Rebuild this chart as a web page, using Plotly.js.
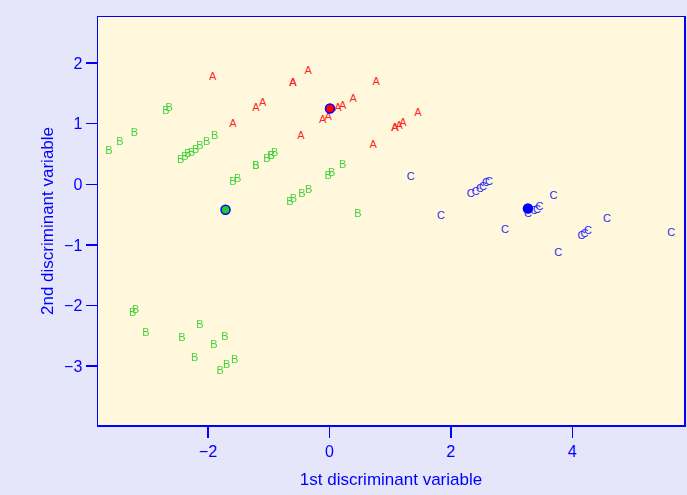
<!DOCTYPE html>
<html><head><meta charset="utf-8">
<script src="https://cdn.plot.ly/plotly-3.0.1.min.js"></script>
<style>html,body{margin:0;padding:0;background:#E6E6FA;}#plot{width:687px;height:495px;}</style>
</head><body><div id="plot"></div>
<script>
var A_x = [-1.92, -0.60, -0.60, -0.35, -1.21, -1.10, -1.59, -0.47, -0.11, -0.02, 0.14, 0.22, 0.39, 0.77, 0.72, 1.08, 1.08, 1.15, 1.21, 1.46];
var A_y = [1.76, 1.67, 1.67, 1.87, 1.26, 1.34, 0.99, 0.80, 1.06, 1.11, 1.25, 1.28, 1.41, 1.68, 0.65, 0.92, 0.92, 0.96, 1.00, 1.18];
var B_x = [-3.63, -3.45, -3.21, -2.69, -2.64, -2.45, -2.38, -2.33, -2.27, -2.20, -2.13, -2.02, -1.89, -1.21, -1.21, -1.03, -0.96, -0.96, -0.90, -1.59, -1.51, 0.22, -0.02, 0.04, -0.34, -0.45, -0.65, -0.59, 0.47, -3.24, -3.19, -3.02, -2.43, -2.13, -2.22, -1.90, -1.72, -1.80, -1.69, -1.56];
var B_y = [0.55, 0.69, 0.85, 1.20, 1.25, 0.39, 0.44, 0.49, 0.52, 0.57, 0.62, 0.70, 0.79, 0.29, 0.29, 0.42, 0.46, 0.46, 0.51, 0.03, 0.08, 0.31, 0.13, 0.18, -0.09, -0.17, -0.30, -0.25, -0.50, -2.13, -2.08, -2.46, -2.54, -2.33, -2.87, -2.66, -2.53, -3.09, -2.99, -2.91];
var C_x = [1.34, 1.84, 2.33, 2.41, 2.48, 2.53, 2.58, 2.63, 2.89, 3.27, 3.37, 3.42, 3.46, 3.69, 3.77, 4.57, 4.15, 4.20, 4.26, 5.63];
var C_y = [0.11, -0.52, -0.17, -0.13, -0.08, -0.04, 0.01, 0.04, -0.76, -0.50, -0.45, -0.42, -0.37, -0.19, -1.13, -0.57, -0.86, -0.83, -0.78, -0.81];
var mean_x = [0.01, -1.71, 3.27];
var mean_y = [1.25, -0.42, -0.40];
var groups = ['A', 'B', 'C'];
var groupColors = ['#FF0000', '#22CC22', '#0000FF'];

function rep(s, n){ var a=[]; for(var i=0;i<n;i++) a.push(s); return a; }
var xs = [A_x, B_x, C_x], ys = [A_y, B_y, C_y];
var traces = [];
for (var g=0; g<3; g++) {
  traces.push({
    x: xs[g], y: ys[g], mode: 'text', type: 'scatter',
    text: rep(groups[g], xs[g].length), textposition: 'middle center',
    textfont: {family: 'Liberation Sans, Arial, sans-serif', size: 11, color: groupColors[g]},
    opacity: 0.85, hoverinfo: 'skip', showlegend: false
  });
}
traces.push({
  x: mean_x, y: mean_y, mode: 'markers', type: 'scatter',
  marker: {size: 9, color: groupColors, line: {color: '#0000FF', width: 1.5}},
  showlegend: false
});

var axisCommon = {
  showgrid: false, zeroline: false, showline: true, mirror: true,
  linecolor: '#0000FF', linewidth: 1.5, ticks: 'outside', ticklen: 11,
  tickcolor: '#0000FF', tickwidth: 1.5,
  tickfont: {family: 'Liberation Sans, Arial, sans-serif', size: 16, color: '#0000FF'}
};
var layout = {
  width: 687, height: 495,
  paper_bgcolor: '#E6E6FA', plot_bgcolor: '#FFF8DC',
  margin: {l: 98, r: 3, t: 17, b: 70},
  xaxis: Object.assign({}, axisCommon, {
    range: [-3.81, 5.84], tickvals: [-2, 0, 2, 4], ticktext: ['\u22122','0','2','4'],
    title: {text: '1st discriminant variable', standoff: 14,
      font: {family: 'Liberation Sans, Arial, sans-serif', size: 17, color: '#0000FF'}}
  }),
  yaxis: Object.assign({}, axisCommon, {
    range: [-3.97, 2.76], tickvals: [-3, -2, -1, 0, 1, 2], ticktext: ['\u22123','\u22122','\u22121','0','1','2'],
    title: {text: '2nd discriminant variable', standoff: 6,
      font: {family: 'Liberation Sans, Arial, sans-serif', size: 17, color: '#0000FF'}}
  })
};
Plotly.newPlot('plot', traces, layout, {displayModeBar: false, staticPlot: true});
</script></body></html>
